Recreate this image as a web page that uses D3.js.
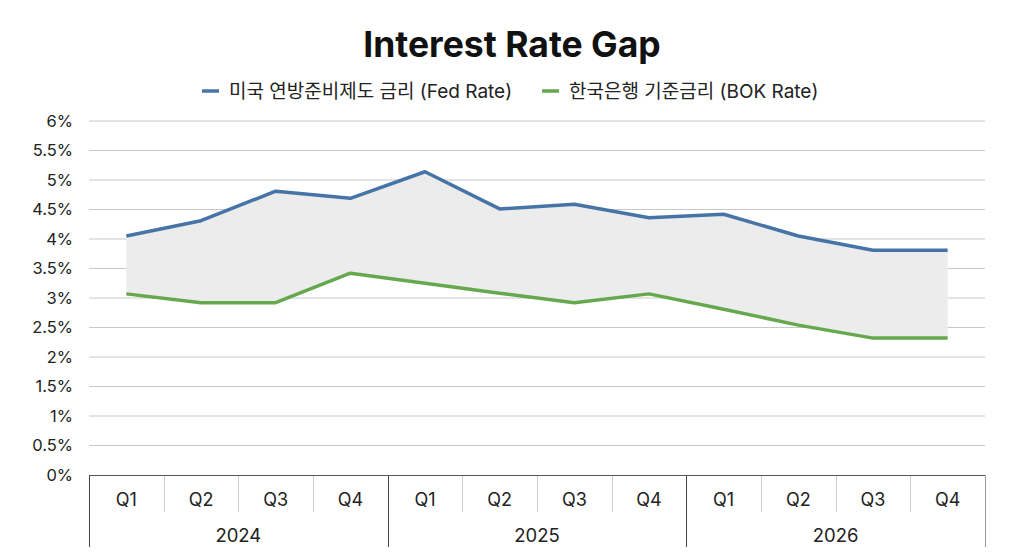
<!DOCTYPE html>
<html>
<head>
<meta charset="utf-8">
<script src="https://cdn.jsdelivr.net/npm/d3@7"></script>
<style>
  body { margin: 0; background: #fff; }
  svg { font-family: Inter, "Noto Sans CJK KR", sans-serif; }
</style>
</head>
<body>
<svg id="chart" width="1024" height="559"></svg>
<script>
// data
const years = ['2024', '2025', '2026'];
const quarters = ['Q1', 'Q2', 'Q3', 'Q4'];
const fedRate = [4.05, 4.31, 4.81, 4.69, 5.14, 4.51, 4.59, 4.36, 4.42, 4.05, 3.81, 3.81];
const bokRate = [3.07, 2.92, 2.92, 3.42, 3.25, 3.08, 2.92, 3.07, 2.81, 2.54, 2.32, 2.32];
const yTicks = [0, 0.5, 1, 1.5, 2, 2.5, 3, 3.5, 4, 4.5, 5, 5.5, 6];
const seriesNames = ['미국 연방준비제도 금리 (Fed Rate)', '한국은행 기준금리 (BOK Rate)'];
const colors = ['#4674a6', '#65a84e'];

const width = 1024;
const height = 559;
const margin = { top: 121, right: 39, bottom: 84, left: 89 };

const svg = d3.select('#chart');

const cats = [];
years.forEach((y) => quarters.forEach((q) => cats.push(y + '-' + q)));

const rows = cats.map((c, i) => ({ key: c, q: c.split('-')[1], fed: fedRate[i], bok: bokRate[i] }));

const x = d3
  .scaleBand()
  .domain(cats)
  .range([margin.left, width - margin.right]);

const y = d3
  .scaleLinear()
  .domain([0, 6])
  .range([height - margin.bottom, margin.top]);

const cx = (d) => x(d.key) + x.bandwidth() / 2;

// title
svg
  .append('text')
  .attr('x', width / 2)
  .attr('y', 57)
  .attr('text-anchor', 'middle')
  .attr('font-size', 35.5)
  .attr('font-weight', 700)
  .attr('fill', '#111')
  .text('Interest Rate Gap');

// legend
const legend = svg.append('g');
const legendX = [202, 542];
seriesNames.forEach((name, i) => {
  const g = legend.append('g').attr('transform', `translate(${legendX[i]}, 91)`);
  g.append('line')
    .attr('x1', 0)
    .attr('x2', 17)
    .attr('stroke', colors[i])
    .attr('stroke-width', 3.5);
  g.append('text')
    .attr('x', 27)
    .attr('dy', '0.35em')
    .attr('font-size', 19)
    .attr('fill', '#222')
    .text(name);
});

// gridlines
svg
  .append('g')
  .selectAll('line')
  .data(yTicks.filter((t) => t > 0))
  .join('line')
  .attr('x1', margin.left)
  .attr('x2', width - margin.right)
  .attr('y1', (d) => y(d))
  .attr('y2', (d) => y(d))
  .attr('stroke', '#c8c8c8')
  .attr('stroke-width', 1);

// y labels
svg
  .append('g')
  .selectAll('text')
  .data(yTicks)
  .join('text')
  .attr('x', 73)
  .attr('y', (d) => y(d))
  .attr('dy', '0.35em')
  .attr('text-anchor', 'end')
  .attr('font-size', 16.5)
  .attr('fill', '#222')
  .text((d) => d + '%');

// gap area
const area = d3
  .area()
  .x(cx)
  .y0((d) => y(d.bok))
  .y1((d) => y(d.fed));

svg
  .append('path')
  .datum(rows)
  .attr('d', area)
  .attr('fill', '#ececec');

// lines
const keys = ['fed', 'bok'];
keys.forEach((k, i) => {
  const line = d3
    .line()
    .x(cx)
    .y((d) => y(d[k]));
  svg
    .append('path')
    .datum(rows)
    .attr('d', line)
    .attr('fill', 'none')
    .attr('stroke', colors[i])
    .attr('stroke-width', 3.5)
    .attr('stroke-linejoin', 'round');
});

// category axis
const axisY = height - margin.bottom;
const ax = svg.append('g');

// quarter separators
ax.selectAll('.qsep')
  .data(cats.filter((c, i) => i % 4 !== 0))
  .join('line')
  .attr('class', 'qsep')
  .attr('x1', (d) => Math.round(x(d)) + 0.5)
  .attr('x2', (d) => Math.round(x(d)) + 0.5)
  .attr('y1', axisY)
  .attr('y2', axisY + 37)
  .attr('stroke', '#cfcfcf');

// year separators
ax.selectAll('.ysep')
  .data(cats.filter((c, i) => i % 4 === 0))
  .join('line')
  .attr('class', 'ysep')
  .attr('x1', (d) => Math.round(x(d)) + 0.5)
  .attr('x2', (d) => Math.round(x(d)) + 0.5)
  .attr('y1', axisY)
  .attr('y2', height - 12)
  .attr('stroke', '#444');

// right edge
ax.append('line')
  .attr('x1', width - margin.right + 0.5)
  .attr('x2', width - margin.right + 0.5)
  .attr('y1', axisY)
  .attr('y2', height - 12)
  .attr('stroke', '#9a9a9a');

// baseline
ax.append('line')
  .attr('x1', margin.left)
  .attr('x2', width - margin.right)
  .attr('y1', axisY + 0.5)
  .attr('y2', axisY + 0.5)
  .attr('stroke', '#555');

// quarter labels
ax.selectAll('.qlab')
  .data(rows)
  .join('text')
  .attr('class', 'qlab')
  .attr('x', cx)
  .attr('y', axisY + 25)
  .attr('dy', '0.35em')
  .attr('text-anchor', 'middle')
  .attr('font-size', 18)
  .attr('fill', '#222')
  .text((d) => d.q);

// year labels
ax.selectAll('.ylab')
  .data(years)
  .join('text')
  .attr('class', 'ylab')
  .attr('x', (d) => (x(d + '-Q1') + x(d + '-Q4') + x.bandwidth()) / 2)
  .attr('y', axisY + 61)
  .attr('dy', '0.35em')
  .attr('text-anchor', 'middle')
  .attr('font-size', 18.5)
  .attr('fill', '#222')
  .text((d) => d);
</script>
</body>
</html>
